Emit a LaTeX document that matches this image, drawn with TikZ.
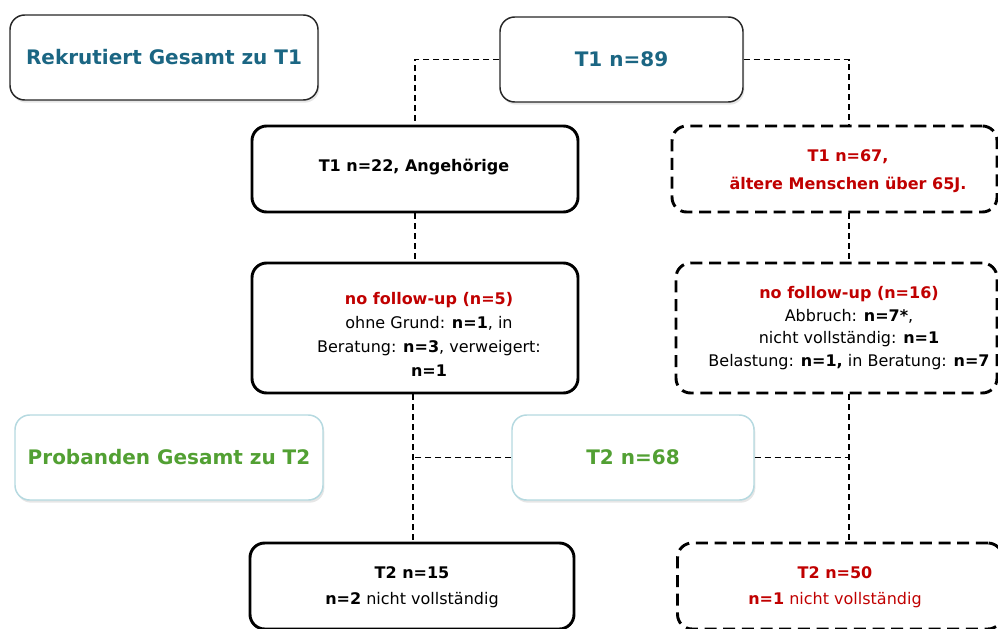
\documentclass[tikz,border=0pt]{standalone}
\usepackage{fontspec}
\setmainfont{DejaVu Sans}
\usetikzlibrary{shadows}
\definecolor{tealtxt}{HTML}{1B6683}
\definecolor{redtxt}{HTML}{C00000}
\definecolor{greentxt}{HTML}{52A033}
\definecolor{blueline}{HTML}{B5D9E0}
\tikzset{
  head/.style={draw=black!85,line width=1.1pt,rounded corners=11pt,fill=white,
    drop shadow={opacity=.2,shadow xshift=1pt,shadow yshift=-2pt},
    text=tealtxt,font=\fontsize{15}{18}\selectfont\bfseries},
  headb/.style={head,draw=blueline,text=greentxt},
  group/.style={draw,line width=2.2pt,rounded corners=11pt},
  groupd/.style={group,dash pattern=on 9pt off 5pt},
  txt/.style={align=center,inner sep=0pt},
  link/.style={line width=.9pt,dash pattern=on 4.5pt off 3pt}
}
\begin{document}
\begin{tikzpicture}[x=.75pt,y=-.75pt]
\clip (0,0) rectangle (998,628);
\path
(413,0)coordinate(colL)
(849,0)coordinate(colR);
% boxes
\node[head,minimum width=231pt,minimum height=63.75pt] (rek) at (164,57.5) {Rekrutiert Gesamt zu T1};
\node[head,minimum width=182.25pt,minimum height=63.75pt] (t1) at (621.5,59.5) {T1 n=89};
\node[group,minimum width=244.5pt,minimum height=64.5pt] (ang) at (415,169) {};
\node[groupd,minimum width=243.75pt,minimum height=64.5pt] (old) at (834.5,169) {};
\node[group,minimum width=244.5pt,minimum height=97.5pt] (nfl) at (415,328) {};
\node[groupd,minimum width=240.75pt,minimum height=97.5pt] (nfr) at (836.5,328) {};
\node[headb,minimum width=231pt,minimum height=63.75pt] (prob) at (169,457.5) {Probanden Gesamt zu T2};
\node[headb,minimum width=181.5pt,minimum height=63.75pt] (t2) at (633,457.5) {T2 n=68};
\node[group,minimum width=243pt,minimum height=64.5pt] (t2l) at (412,586) {};
\node[groupd,minimum width=243.75pt,minimum height=64.5pt] (t2r) at (840,586) {};
% texts
\node[txt,font=\fontsize{12}{18}\selectfont\bfseries] (ang-t) at (414,167) {T1 n=22, Angehörige};
\node[txt,text=redtxt,font=\fontsize{12}{21}\selectfont\bfseries] (old-t) at (848,171) {T1 n=67,\\ältere Menschen über 65J.};
\node[txt,font=\fontsize{12}{18}\selectfont] (nfl-t) at (429,334) {\textcolor{redtxt}{\bfseries no follow-up (n=5)}\\ohne Grund: \textbf{n=1}, in\\Beratung: \textbf{n=3}, verweigert:\\\textbf{n=1}};
\node[txt,font=\fontsize{12}{17}\selectfont] (nfr-t) at (849,328) {\textcolor{redtxt}{\bfseries no follow-up (n=16)}\\Abbruch: \textbf{n=7*},\\nicht vollständig: \textbf{n=1}\\Belastung: \textbf{n=1,} in Beratung: \textbf{n=7}};
\node[txt,font=\fontsize{12}{19.5}\selectfont] (t2l-t) at (412,587) {\textbf{T2 n=15}\\\textbf{n=2} nicht vollständig};
\node[txt,text=redtxt,font=\fontsize{12}{19.5}\selectfont] (t2r-t) at (835,587) {\textbf{T2 n=50}\\\textbf{n=1} nicht vollständig};
% links
\draw[link] (t1.west) -| (ang.north);
\draw[link] (t1.east) -| (old.north -| colR);
\draw[link] (ang.south) -- (nfl.north);
\draw[link] (old.south -| colR) -- (nfr.north -| colR);
\draw[link] (nfl.south -| colL) -- (t2l.north -| colL);
\draw[link] (nfr.south -| colR) -- (t2r.north -| colR);
\draw[link] (t2.west) -- (t2.west -| colL);
\draw[link] (t2.east) -- (t2.east -| colR);
\end{tikzpicture}
\end{document}
